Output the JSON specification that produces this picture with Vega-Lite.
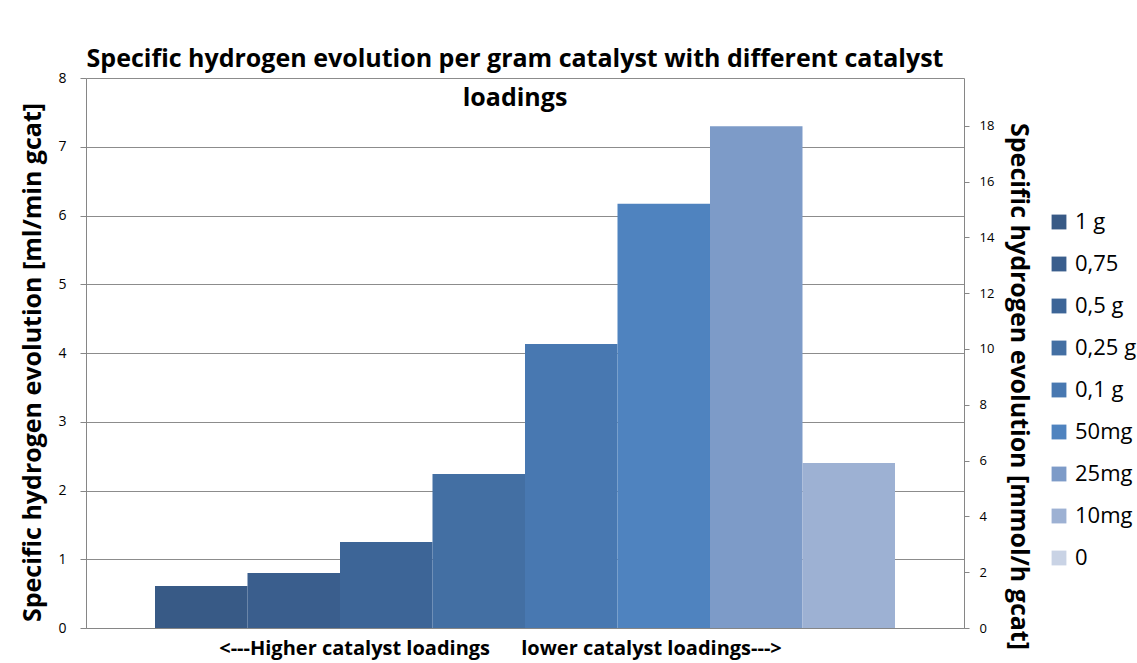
{
  "$schema": "https://vega.github.io/schema/vega-lite/v6.json",
  "autosize": {"type": "none"},
  "width": 878,
  "height": 550,
  "padding": {"left": 86, "top": 78, "right": 173, "bottom": 35},
  "background": "white",
  "config": {
    "font": "Open Sans",
    "view": {"stroke": null},
    "axis": {"labelFont": "Open Sans", "titleFont": "Open Sans"}
  },
  "title": {
    "text": ["Specific hydrogen evolution per gram catalyst with different catalyst", "loadings"],
    "font": "Open Sans",
    "fontSize": 25,
    "fontWeight": "bold",
    "color": "#000000",
    "anchor": "middle",
    "dx": -10,
    "dy": 57,
    "offset": -8,
    "lineHeight": 39,
    "baseline": "bottom"
  },
  "data": {
    "values": [
      {"loading": "1 g", "value": 0.61},
      {"loading": "0,75", "value": 0.8},
      {"loading": "0,5 g", "value": 1.25},
      {"loading": "0,25 g", "value": 2.24},
      {"loading": "0,1 g", "value": 4.13},
      {"loading": "50mg", "value": 6.17},
      {"loading": "25mg", "value": 7.3},
      {"loading": "10mg", "value": 2.4}
    ]
  },
  "layer": [
    {
      "mark": {"type": "bar"},
      "encoding": {
        "x": {
          "field": "loading",
          "type": "nominal",
          "sort": null,
          "scale": {"domain": ["1 g", "0,75", "0,5 g", "0,25 g", "0,1 g", "50mg", "25mg", "10mg"], "paddingInner": 0, "paddingOuter": 0.746},
          "axis": {
            "labels": false,
            "ticks": false,
            "domainColor": "#868686",
            "title": "<---Higher catalyst loadings\u00a0\u00a0\u00a0\u00a0\u00a0 lower catalyst loadings--->",
            "titleFontSize": 20,
            "titleFontWeight": "bold",
            "titleColor": "#000000",
            "titlePadding": 10,
            "titleX": 414
          }
        },
        "y": {
          "field": "value",
          "type": "quantitative",
          "scale": {"domain": [0, 8], "nice": false},
          "axis": {
            "values": [0, 1, 2, 3, 4, 5, 6, 7, 8],
            "grid": true,
            "gridColor": "#8c8c8c",
            "domainColor": "#868686",
            "tickColor": "#868686",
            "tickSize": 6,
            "labelFontSize": 14,
            "labelColor": "#000000",
            "labelPadding": 14,
            "title": "Specific hydrogen evolution [ml/min gcat]",
            "titleFontSize": 25,
            "titleFontWeight": "bold",
            "titleColor": "#000000",
            "titlePadding": 12,
            "titleY": 284
          }
        },
        "color": {
          "field": "loading",
          "type": "nominal",
          "scale": {
            "domain": ["1 g", "0,75", "0,5 g", "0,25 g", "0,1 g", "50mg", "25mg", "10mg", "0"],
            "range": ["#385A86", "#3A5E8D", "#3D6597", "#436FA3", "#4878B1", "#4F83BF", "#7D9BC8", "#9DB1D3", "#C9D3E5"]
          },
          "legend": {
            "orient": "none",
            "legendX": 962,
            "legendY": 133,
            "title": null,
            "symbolType": "square",
            "symbolSize": 220,
            "symbolStrokeWidth": 0,
            "labelFontSize": 22,
            "labelFont": "Open Sans",
            "labelColor": "#000000",
            "rowPadding": 20,
            "labelOffset": 5
          }
        }
      }
    },
    {
      "mark": {"type": "point", "opacity": 0},
      "encoding": {
        "x": {"field": "loading", "type": "nominal", "sort": null},
        "y": {
          "field": "value",
          "type": "quantitative",
          "scale": {"domain": [0, 19.71], "nice": false, "zero": true},
          "axis": {
            "orient": "right",
            "values": [0, 2, 4, 6, 8, 10, 12, 14, 16, 18],
            "grid": false,
            "domainColor": "#868686",
            "tickColor": "#868686",
            "tickSize": 5,
            "labelFontSize": 13,
            "labelColor": "#000000",
            "labelPadding": 10,
            "title": "Specific hydrogen evolution [mmol/h gcat]",
            "titleFontSize": 25,
            "titleFontWeight": "bold",
            "titleColor": "#000000",
            "titlePadding": 12,
            "titleY": 308
          }
        }
      }
    }
  ],
  "resolve": {"scale": {"y": "independent"}}
}
